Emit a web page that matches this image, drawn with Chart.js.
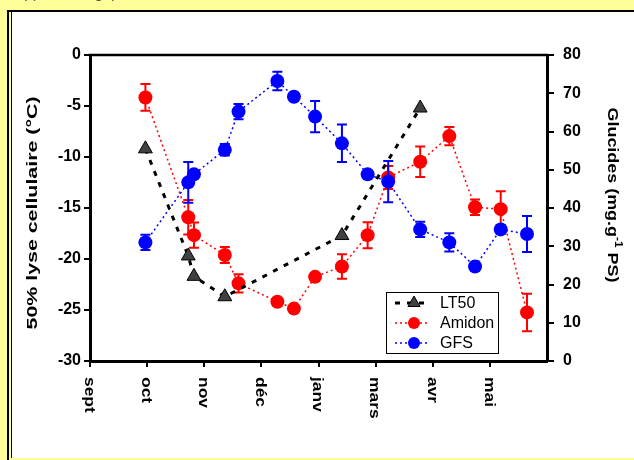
<!DOCTYPE html>
<html>
<head>
<meta charset="utf-8">
<script src="https://cdn.jsdelivr.net/npm/chart.js@4.4.1/dist/chart.umd.min.js"></script>
<style>
  html, body { margin: 0; width: 634px; height: 460px; overflow: hidden; background: #ffff99; }
  #entete { position: absolute; left: 6px; top: -16px; font: 15px "Liberation Sans", Arial, sans-serif; color: #555; white-space: nowrap; }
  #cadre { position: absolute; left: 7px; top: 10px; width: 700px; height: 448px; border-left: 2px solid #000; border-top: 2px solid #000; background: #ffff99; }
  #fond { position: absolute; left: 2px; top: 0; width: 700px; height: 446px; border-left: 1px solid #000; background: #fff; }
  #graphe { position: absolute; left: 0; top: 0; }
</style>
</head>
<body>
<div id="entete">Support biologique</div>
<div id="cadre"><div id="fond"></div></div>
<canvas id="graphe" width="634" height="460"></canvas>
<script>
// données (mois comptés depuis sept = 0)
const moisLabels = ['sept', 'oct', 'nov', 'déc', 'janv', 'mars', 'avr', 'mai'];
const datesPrelev = [0.97, 1.72, 1.82, 2.36, 2.60, 3.28, 3.57, 3.94, 4.41, 4.86, 5.22, 5.78, 6.29, 6.74, 7.19, 7.65];

const amidon    = [68.9, 37.6, 32.9, 27.7, 20.3, 15.5, 13.7, 22.0, 24.7, 32.9, 48.0, 52.1, 58.8, 40.2, 39.7, 12.7];
const amidonErr = [3.5, 4.5, 3.3, 2.1, 2.4, 0, 0, 0.8, 3.2, 3.4, 3.0, 4.0, 2.4, 2.0, 4.7, 4.9];

const gfs    = [31.0, 46.7, 48.8, 55.2, 65.2, 73.2, 69.1, 63.9, 56.9, 48.8, 46.9, 34.4, 31.0, 24.7, 34.4, 33.2];
const gfsErr = [2.0, 5.3, 0, 1.5, 2.0, 2.4, 1.0, 4.1, 4.9, 0, 5.4, 2.0, 2.4, 0, 1.0, 4.7];

const lt50Dates = [0.97, 1.72, 1.82, 2.36, 4.41, 5.78];
const lt50      = [-9.2, -19.7, -21.7, -23.7, -17.7, -5.2];

const police = '"Liberation Sans", Arial, sans-serif';
Chart.defaults.font.family = police;
Chart.defaults.color = '#000';

function points(xs, ys) {
  return xs.map((x, i) => ({ x: x, y: ys[i] }));
}

// barres d'erreur dessinées après chaque série
const barresErreur = {
  id: 'barresErreur',
  afterDatasetDraw(chart, args) {
    const ds = chart.data.datasets[args.index];
    if (!ds.errors) return;
    const ctx = chart.ctx;
    const sx = chart.scales.x;
    const sy = chart.scales[ds.yAxisID];
    ctx.save();
    ctx.strokeStyle = ds.borderColor;
    ctx.lineWidth = 2;
    ds.data.forEach((p, i) => {
      const e = ds.errors[i];
      if (!e) return;
      const px = sx.getPixelForValue(p.x);
      const haut = sy.getPixelForValue(p.y + e);
      const bas = sy.getPixelForValue(p.y - e);
      ctx.beginPath();
      ctx.moveTo(px, haut); ctx.lineTo(px, bas);
      ctx.moveTo(px - 5, haut); ctx.lineTo(px + 5, haut);
      ctx.moveTo(px - 5, bas); ctx.lineTo(px + 5, bas);
      ctx.stroke();
    });
    ctx.restore();
  }
};

function marqueur(ctx, style, x, y, r) {
  ctx.beginPath();
  if (style === 'triangle') {
    ctx.moveTo(x, y - r);
    ctx.lineTo(x + r * 0.866, y + r * 0.5);
    ctx.lineTo(x - r * 0.866, y + r * 0.5);
    ctx.closePath();
  } else {
    ctx.arc(x, y, r, 0, Math.PI * 2);
  }
  ctx.fill();
}

// texte vertical étiré (le texte tourné de la figure est plus long que large)
function texteVertical(ctx, morceaux, cx, cy, angle, longueur) {
  ctx.save();
  ctx.translate(cx, cy);
  ctx.rotate(angle);
  let total = 0;
  morceaux.forEach(m => { ctx.font = m.font; m.w = ctx.measureText(m.t).width; total += m.w; });
  ctx.scale(longueur / total, 1);
  let x = -total / 2;
  ctx.textBaseline = 'middle';
  ctx.textAlign = 'left';
  morceaux.forEach(m => {
    ctx.font = m.font;
    ctx.fillText(m.t, x, m.dy || 0);
    x += m.w;
  });
  ctx.restore();
}

const habillage = {
  id: 'habillage',
  afterDraw(chart) {
    const ctx = chart.ctx;
    const a = chart.chartArea;
    const sx = chart.scales.x;
    ctx.save();
    ctx.fillStyle = '#000';
    ctx.strokeStyle = '#000';

    // bord supérieur du cadre
    ctx.lineWidth = 2.5;
    ctx.beginPath();
    ctx.moveTo(a.left - 1, a.top);
    ctx.lineTo(a.right + 1, a.top);
    ctx.stroke();

    // étiquettes des mois, tournées vers le bas
    moisLabels.forEach((lab, i) => {
      ctx.save();
      ctx.translate(sx.getPixelForValue(i) - 1, a.bottom + 16);
      ctx.rotate(Math.PI / 2);
      ctx.scale(1.16, 1);
      ctx.font = 'bold 15px ' + police;
      ctx.textAlign = 'left';
      ctx.textBaseline = 'middle';
      ctx.fillText(lab, 0, 0);
      ctx.restore();
    });

    // titres des axes
    texteVertical(ctx, [{ t: '50% lyse cellulaire (°C)', font: 'bold 15px ' + police }],
      33, 213, -Math.PI / 2, 233);
    texteVertical(ctx, [
      { t: 'Glucides (mg.g', font: 'bold 15px ' + police },
      { t: '-1', font: 'bold 10px ' + police, dy: -6 },
      { t: ' PS)', font: 'bold 15px ' + police }
    ], 612, 195, Math.PI / 2, 175);

    // légende
    const lx = 386, ly = 292, lw = 112, lh = 61;
    ctx.fillStyle = '#fff';
    ctx.fillRect(lx, ly, lw, lh);
    ctx.lineWidth = 1;
    ctx.strokeRect(lx + 0.5, ly + 0.5, lw, lh);
    const ordre = [0, 1, 2];
    ordre.forEach((k, j) => {
      const ds = chart.data.datasets[k];
      const y = ly + 11 + j * 20;
      ctx.save();
      ctx.strokeStyle = ds.borderColor;
      ctx.lineWidth = ds.borderWidth;
      ctx.setLineDash(ds.borderDash);
      ctx.beginPath();
      ctx.moveTo(lx + 9, y);
      ctx.lineTo(lx + 44, y);
      ctx.stroke();
      ctx.setLineDash([]);
      ctx.fillStyle = ds.pointBackgroundColor;
      marqueur(ctx, ds.pointStyle, lx + 28, y, ds.pointStyle === 'triangle' ? 7 : 6);
      if (ds.pointStyle === 'triangle') {
        ctx.strokeStyle = '#000';
        ctx.lineWidth = 1;
        ctx.stroke();
      }
      ctx.restore();
      ctx.fillStyle = '#000';
      ctx.font = '16px ' + police;
      ctx.textAlign = 'left';
      ctx.textBaseline = 'middle';
      ctx.fillText(ds.label, lx + 54, y + 1);
    });
    ctx.restore();
  }
};

const axeY = (largeur, min, max, pas, longTick, pad) => ({
  min: min,
  max: max,
  afterFit: s => { s.width = largeur; },
  ticks: { stepSize: pas, font: { size: 16, weight: 'bold' }, color: '#000', padding: pad },
  grid: { drawOnChartArea: false, drawTicks: true, tickLength: longTick, color: '#000', lineWidth: 2 },
  border: { display: true, color: '#000', width: 3 }
});

const yGauche = axeY(90, -30, 0, 5, 6, 3);
yGauche.position = 'left';
const yDroit = axeY(87, 0, 80, 10, 7, 9);
yDroit.position = 'right';

new Chart(document.getElementById('graphe'), {
  type: 'scatter',
  data: {
    datasets: [{
      label: 'LT50',
      data: points(lt50Dates, lt50),
      yAxisID: 'y',
      showLine: true,
      order: 0,
      borderColor: '#000',
      borderWidth: 3,
      borderDash: [5, 7],
      pointStyle: 'triangle',
      pointRadius: 8,
      pointBackgroundColor: '#404040',
      pointBorderColor: '#000',
      pointBorderWidth: 1
    }, {
      label: 'Amidon',
      data: points(datesPrelev, amidon),
      errors: amidonErr,
      yAxisID: 'y2',
      showLine: true,
      order: 2,
      borderColor: '#ff0000',
      borderWidth: 1.5,
      borderDash: [2, 3],
      pointStyle: 'circle',
      pointRadius: 7,
      pointBackgroundColor: '#ff0000',
      pointBorderColor: '#ff0000',
      pointBorderWidth: 0
    }, {
      label: 'GFS',
      data: points(datesPrelev, gfs),
      errors: gfsErr,
      yAxisID: 'y2',
      showLine: true,
      order: 1,
      borderColor: '#0000ff',
      borderWidth: 1.5,
      borderDash: [2, 3],
      pointStyle: 'circle',
      pointRadius: 7,
      pointBackgroundColor: '#0000ff',
      pointBorderColor: '#0000ff',
      pointBorderWidth: 0
    }]
  },
  options: {
    responsive: false,
    animation: false,
    devicePixelRatio: 1,
    layout: { padding: { top: 55, left: 0, right: 0, bottom: 0 } },
    plugins: { legend: { display: false }, tooltip: { enabled: false } },
    scales: {
      x: {
        type: 'linear',
        min: 0,
        max: 8,
        afterFit: s => { s.height = 99; },
        afterBuildTicks: s => { s.ticks = moisLabels.map((_, i) => ({ value: i })); },
        ticks: { display: false },
        grid: { drawOnChartArea: false, drawTicks: true, tickLength: 6, color: '#000', lineWidth: 2 },
        border: { display: true, color: '#000', width: 3 }
      },
      y: yGauche,
      y2: yDroit
    }
  },
  plugins: [barresErreur, habillage]
});
</script>
</body>
</html>
